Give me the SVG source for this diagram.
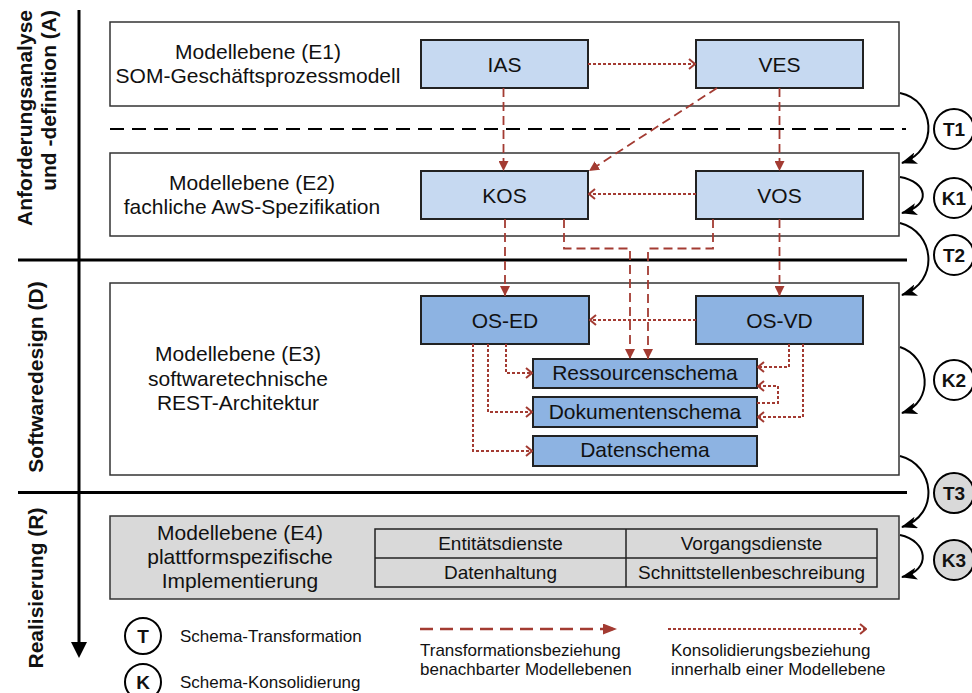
<svg xmlns="http://www.w3.org/2000/svg" width="972" height="693" viewBox="0 0 972 693">
<style>
  text { font-family: "Liberation Sans", Arial, sans-serif; fill: #111; }
  .ax { font-size: 21px; font-weight: bold; }
  .lbl { font-size: 21px; text-anchor: middle; }
  .tbl { font-size: 19px; text-anchor: middle; }
  .leg { font-size: 17px; }
  .circ { font-size: 19px; font-weight: bold; text-anchor: middle; }
  .lvl { fill: #fff; stroke: #333; stroke-width: 1.5; }
  .lvl4 { fill: #d9d9d9; stroke: #333; stroke-width: 1.5; }
  .n1 { fill: #c6d9f1; stroke: #222; stroke-width: 2; }
  .n2 { fill: #8db3e2; stroke: #222; stroke-width: 2; }
  .sep { stroke: #000; stroke-width: 3; fill: none; }
  .tr { fill: none; stroke: #a33b32; stroke-width: 1.8; stroke-dasharray: 9 5; marker-end: url(#tri); }
  .ko { fill: none; stroke: #a33b32; stroke-width: 2; stroke-dasharray: 3 2; marker-end: url(#chev); }
  .cv { fill: none; stroke: #000; stroke-width: 2; marker-end: url(#blk); }
  .cw { fill: #fff; stroke: #000; stroke-width: 2; }
  .cg { fill: #d9d9d9; stroke: #000; stroke-width: 2; }
</style>
<defs>
  <marker id="tri" markerUnits="userSpaceOnUse" viewBox="0 0 10 10" markerWidth="10" markerHeight="10" refX="10" refY="5" orient="auto"><path d="M0,0 L10,5 L0,10 z" fill="#a33b32" stroke="none"/></marker>
  <marker id="tri2" markerUnits="userSpaceOnUse" viewBox="0 0 14 11" markerWidth="14" markerHeight="11" refX="14" refY="5.5" orient="auto"><path d="M0,0 L14,5.5 L0,11 z" fill="#a33b32" stroke="none"/></marker>
  <marker id="chev" markerUnits="userSpaceOnUse" viewBox="0 0 8 12" markerWidth="8" markerHeight="12" refX="7" refY="6" orient="auto"><path d="M1,1 L7,6 L1,11" fill="none" stroke="#a33b32" stroke-width="2" stroke-dasharray="none"/></marker>
  <marker id="blk" markerUnits="userSpaceOnUse" viewBox="0 0 16 12" markerWidth="16" markerHeight="12" refX="15" refY="6" orient="auto"><path d="M0,0 L16,6 L0,12 L4,6 z" fill="#000" stroke="none"/></marker>
</defs>

<g id="axis">
  <line class="sep" x1="79" y1="10" x2="79" y2="644"/>
  <polygon points="71,642 87,642 79,658" fill="#000"/>
  <line class="sep" x1="18" y1="260" x2="907" y2="260"/>
  <line class="sep" x1="18" y1="492.5" x2="907" y2="492.5"/>
  <line x1="110" y1="129" x2="906" y2="129" stroke="#000" stroke-width="2" stroke-dasharray="14 8"/>
</g>

<g id="phase-A">
  <text class="ax" text-anchor="end" transform="translate(32,10) rotate(-90)">Anforderungsanalyse</text>
  <text class="ax" text-anchor="end" transform="translate(56,10) rotate(-90)">und -definition (A)</text>
</g>
<g id="phase-D">
  <text class="ax" text-anchor="middle" transform="translate(43,377) rotate(-90)">Softwaredesign (D)</text>
</g>
<g id="phase-R">
  <text class="ax" text-anchor="middle" transform="translate(43,588) rotate(-90)">Realisierung (R)</text>
</g>

<g id="E1">
  <rect class="lvl" x="110" y="22" width="789" height="84"/>
  <text class="lbl" x="258" y="59">Modellebene (E1)</text>
  <text class="lbl" x="258" y="83">SOM-Geschäftsprozessmodell</text>
</g>
<g id="E2">
  <rect class="lvl" x="110" y="153" width="789" height="83"/>
  <text class="lbl" x="252" y="190">Modellebene (E2)</text>
  <text class="lbl" x="252" y="214">fachliche AwS-Spezifikation</text>
</g>
<g id="E3">
  <rect class="lvl" x="110" y="283" width="789" height="192"/>
  <text class="lbl" x="238" y="361">Modellebene (E3)</text>
  <text class="lbl" x="238" y="386">softwaretechnische</text>
  <text class="lbl" x="238" y="410">REST-Architektur</text>
</g>
<g id="E4">
  <rect class="lvl4" x="110" y="516" width="789" height="83"/>
  <text class="lbl" x="240" y="540">Modellebene (E4)</text>
  <text class="lbl" x="240" y="564">plattformspezifische</text>
  <text class="lbl" x="240" y="588">Implementierung</text>
  <rect x="375" y="529" width="502" height="58" fill="#d9d9d9" stroke="#222" stroke-width="1.5"/>
  <line x1="375" y1="558" x2="877" y2="558" stroke="#222" stroke-width="1.5"/>
  <line x1="626" y1="529" x2="626" y2="587" stroke="#222" stroke-width="1.5"/>
  <text class="tbl" x="500.5" y="550">Entitätsdienste</text>
  <text class="tbl" x="751.5" y="550">Vorgangsdienste</text>
  <text class="tbl" x="500.5" y="579">Datenhaltung</text>
  <text class="tbl" x="751.5" y="579">Schnittstellenbeschreibung</text>
</g>

<g id="IAS"><rect class="n1" x="421" y="40" width="167" height="48"/><text class="lbl" x="504.5" y="71.5">IAS</text></g>
<g id="VES"><rect class="n1" x="696" y="40" width="167" height="48"/><text class="lbl" x="779.5" y="71.5">VES</text></g>
<g id="KOS"><rect class="n1" x="421" y="171" width="167" height="48"/><text class="lbl" x="504.5" y="202.5">KOS</text></g>
<g id="VOS"><rect class="n1" x="696" y="171" width="167" height="48"/><text class="lbl" x="779.5" y="202.5">VOS</text></g>
<g id="OS-ED"><rect class="n2" x="421" y="296" width="168" height="48"/><text class="lbl" x="505" y="327.5">OS-ED</text></g>
<g id="OS-VD"><rect class="n2" x="696" y="296" width="167" height="48"/><text class="lbl" x="779.5" y="328">OS-VD</text></g>
<g id="Ressourcenschema"><rect class="n2" x="533" y="359" width="224" height="29"/><text class="lbl" x="645" y="380">Ressourcenschema</text></g>
<g id="Dokumentenschema"><rect class="n2" x="533" y="397" width="224" height="30"/><text class="lbl" x="645" y="418.5">Dokumentenschema</text></g>
<g id="Datenschema"><rect class="n2" x="533" y="436" width="224" height="30"/><text class="lbl" x="645" y="457">Datenschema</text></g>

<g id="connectors">
  <path class="tr" d="M503.5,88 V171"/>
  <path class="tr" d="M717,88 L589,171"/>
  <path class="tr" d="M779.5,88 V171"/>
  <path class="tr" d="M505,219 V296"/>
  <path class="tr" d="M779.5,219 V296"/>
  <path class="tr" d="M564,219 V248.5 H630 V359"/>
  <path class="tr" d="M713,219 V248.5 H648 V359"/>
  <path class="ko" d="M588,64 H695"/>
  <path class="ko" d="M696,194 H589"/>
  <path class="ko" d="M696,320 H590"/>
  <path class="ko" d="M506,344 V373 H532"/>
  <path class="ko" d="M488,344 V412 H532"/>
  <path class="ko" d="M473,344 V451 H532"/>
  <path class="ko" d="M789,344 V367 H758"/>
  <path class="ko" d="M757,403 H778 V386 H758"/>
  <path class="ko" d="M803,344 V417 H758"/>
  <path class="cv" d="M900,93 C935,100 940,150 902,163"/>
  <path class="cv" d="M900,177 C928,182 932,205 902,213"/>
  <path class="cv" d="M900,223 C935,232 940,282 902,295"/>
  <path class="cv" d="M900,347 C930,357 935,402 902,413"/>
  <path class="cv" d="M900,456 C935,465 940,515 902,527"/>
  <path class="cv" d="M900,535 C928,541 932,570 902,577"/>
</g>

<g id="T1"><circle class="cw" cx="954" cy="129" r="20"/><text class="circ" x="954" y="136">T1</text></g>
<g id="K1"><circle class="cw" cx="954" cy="198" r="20"/><text class="circ" x="954" y="205">K1</text></g>
<g id="T2"><circle class="cw" cx="954" cy="255" r="20"/><text class="circ" x="954" y="262">T2</text></g>
<g id="K2"><circle class="cw" cx="954" cy="380" r="20"/><text class="circ" x="954" y="387">K2</text></g>
<g id="T3"><circle class="cg" cx="954" cy="493" r="20"/><text class="circ" x="954" y="500">T3</text></g>
<g id="K3"><circle class="cg" cx="954" cy="560" r="20"/><text class="circ" x="954" y="567">K3</text></g>

<g id="legend">
  <circle class="cw" cx="143" cy="636" r="18"/><text class="circ" x="143" y="643">T</text>
  <text class="leg" x="180" y="642">Schema-Transformation</text>
  <circle class="cw" cx="143" cy="682" r="18"/><text class="circ" x="143" y="689">K</text>
  <text class="leg" x="180" y="688">Schema-Konsolidierung</text>
  <path d="M420,629 H617" fill="none" stroke="#a33b32" stroke-width="2.5" stroke-dasharray="13 7" marker-end="url(#tri2)"/>
  <text class="leg" x="420" y="656">Transformationsbeziehung</text>
  <text class="leg" x="420" y="675">benachbarter Modellebenen</text>
  <path class="ko" d="M668,629 H866"/>
  <text class="leg" x="671" y="656">Konsolidierungsbeziehung</text>
  <text class="leg" x="671" y="675">innerhalb einer Modellebene</text>
</g>
</svg>
